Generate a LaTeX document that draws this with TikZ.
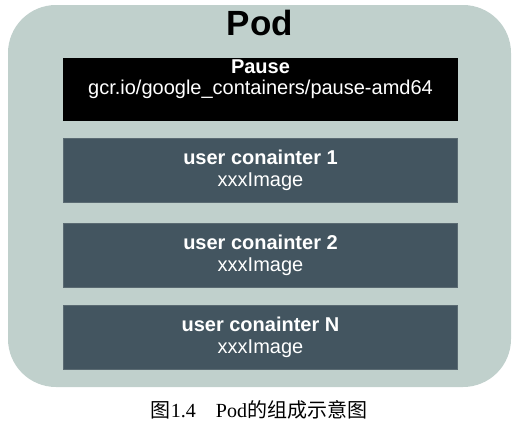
\documentclass[tikz,border=0pt]{standalone}
\usepackage{fontspec}
\setmainfont{Liberation Serif}
\setsansfont{Liberation Sans}
\newfontfamily\cjk{Noto Sans CJK SC}
\definecolor{podbg}{HTML}{C0D0CC}
\definecolor{ctrbg}{HTML}{435560}
\definecolor{ctredge}{HTML}{5A6A72}
\begin{document}
\begin{tikzpicture}[x=1pt,y=-1pt,
  ctr/.style={draw=ctredge, fill=ctrbg, minimum width=394pt, minimum height=64pt,
    text=white, align=center, font=\sffamily\fontsize{20}{22}\selectfont}]
\useasboundingbox (0,0) rectangle (524,431);

% Pod 外框
\fill[podbg, rounded corners=48pt] (8,5) rectangle (511,387);
\node[font=\sffamily\bfseries\fontsize{35}{40}\selectfont] (pod) at (260,23) {Pod};

% Pause 容器
\node[ctr, draw=black, fill=black, minimum height=62pt] (pause) at (260.5,89) {};
\node[text=white, align=center, font=\sffamily\fontsize{20}{21}\selectfont] (pauselbl) at (260.5,79.5)
  {\textbf{Pause}\\gcr.io/google\_containers/pause-amd64};

% 用户容器
\foreach \y/\n [count=\i] in {170.5/1, 255/2, 337.5/N}
  \node[ctr] (user\i) at (260.5,\y) {\textbf{user conainter \n}\\xxxImage};

% 图题
\node[font=\fontsize{20}{24}\selectfont] (cap) at (259,410)
  {{\cjk 图}1.4\hspace{1em}Pod{\cjk 的组成示意图}};
\end{tikzpicture}
\end{document}
